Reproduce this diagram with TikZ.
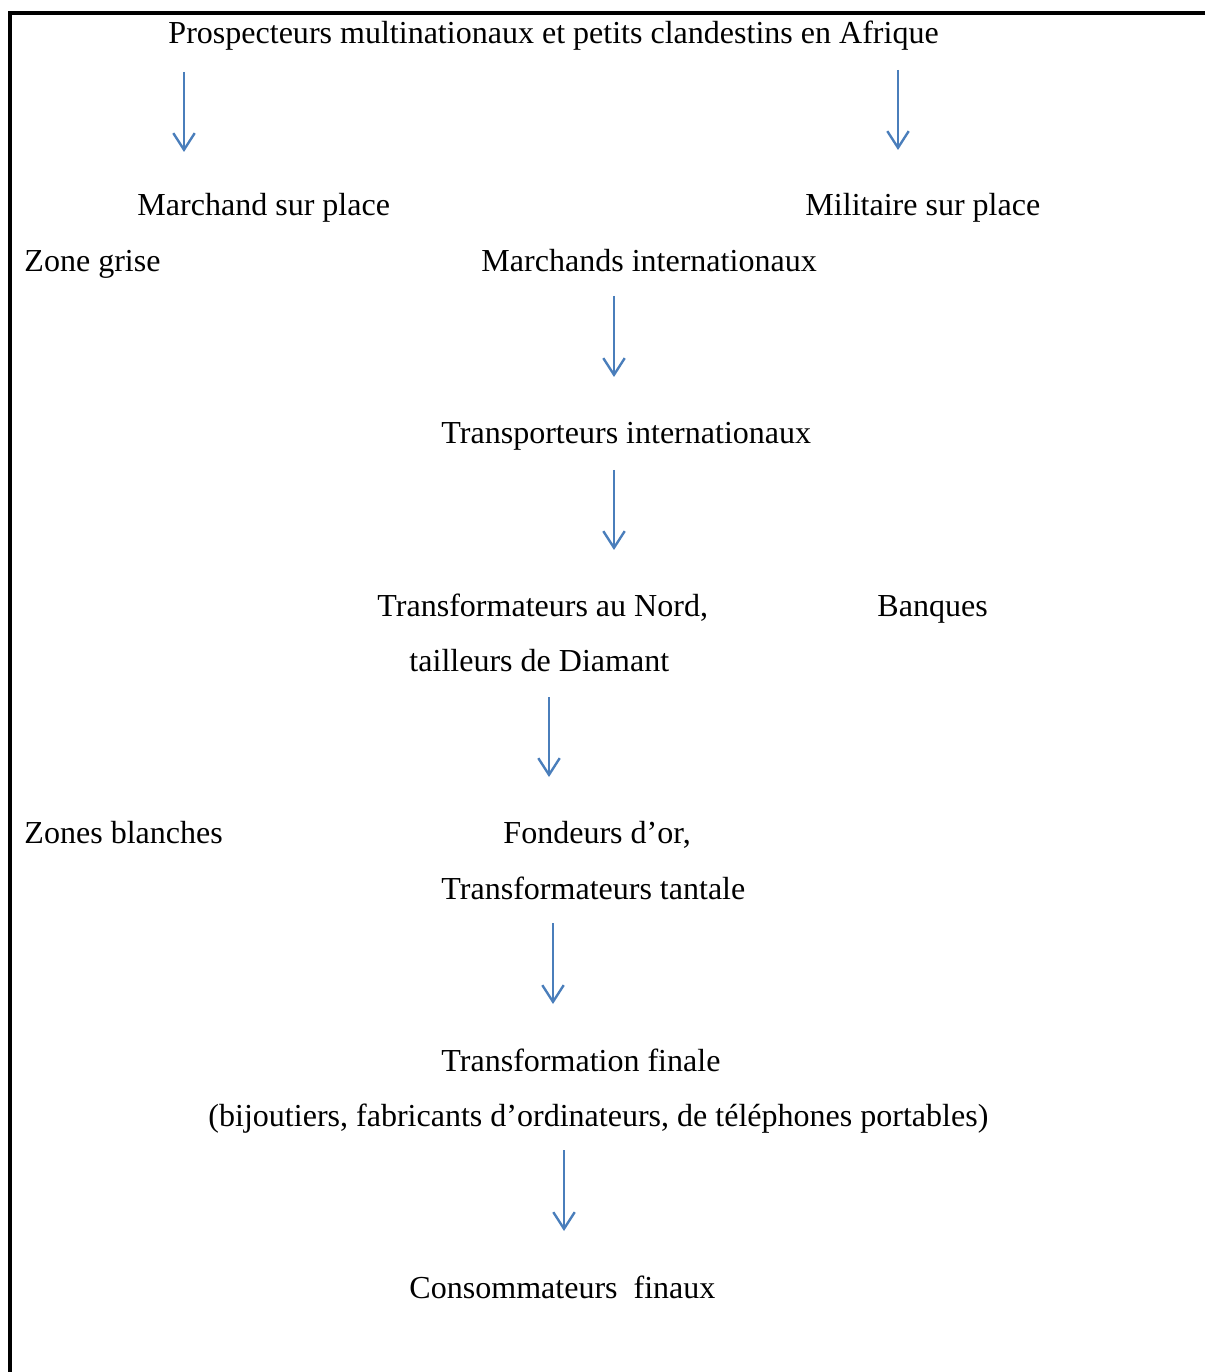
\documentclass[tikz,border=0pt]{standalone}
\usepackage{fontspec}
\setmainfont{Liberation Serif}
\usetikzlibrary{arrows.meta}
\definecolor{arrowblue}{RGB}{74,126,187}

\begin{document}
\begin{tikzpicture}[x=0.42pt, y=-0.42pt,
    lbl/.style={anchor=base west, inner sep=0pt, font=\fontsize{13.45}{15}\selectfont},
    flow/.style={line width=1pt, arrowblue, -{Straight Barb[length=7pt, width=9pt, line width=1pt]}}]
            \useasboundingbox (0,0) rectangle (1205,1372);

            % frame: top and left only
            \draw [line width=1.3pt,black] (1205,13) -- (10,13) -- (10,1372);

            \node[lbl] (prosp) at (168,44) {Prospecteurs multinationaux et petits clandestins en Afrique};
            \node[lbl] (march) at (137,216) {Marchand sur place};
            \node[lbl] (milit) at (805,216) {Militaire sur place};
            \node[lbl] (grise) at (24,272) {Zone grise};
            \node[lbl] (intl) at (481,272) {Marchands internationaux};
            \node[lbl] (transp) at (441,444) {Transporteurs internationaux};
            \node[lbl] (nord) at (377,616) {Transformateurs au Nord,};
            \node[lbl] (banq) at (877,616) {Banques};
            \node[lbl] (taill) at (409,671) {tailleurs de Diamant};
            \node[lbl] (blanc) at (24,843) {Zones blanches};
            \node[lbl] (fond) at (503,843) {Fondeurs d’or,};
            \node[lbl] (tant) at (441,899) {Transformateurs tantale};
            \node[lbl] (finale) at (441,1071) {Transformation finale};
            \node[lbl] (bijou) at (208,1126) {(bijoutiers, fabricants d’ordinateurs, de téléphones portables)};
            \node[lbl] (conso) at (409,1298) {Consommateurs\ \ finaux};

            \foreach \x/\ya/\yb/\i in {184/72/152/1,898/70/150/2,614/296/377/3,614/470/550/4,549/697/777/5,553/923/1004/6,564/1150/1231/7} {
            \coordinate (s\i) at (\x,\ya);
            \coordinate (e\i) at (\x,\yb);
            \draw [flow] (s\i) -- (e\i);}
        \end{tikzpicture}
\end{document}
